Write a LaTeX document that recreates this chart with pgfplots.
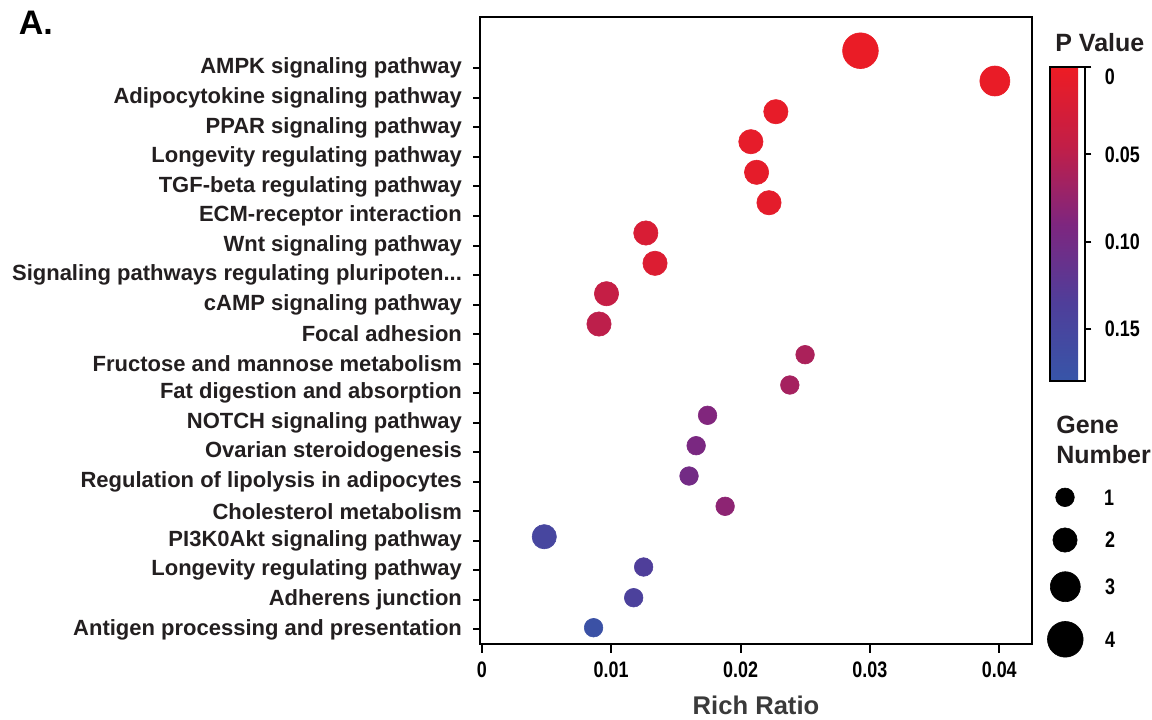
\documentclass[border=0pt]{standalone}
\usepackage{fontspec}
\setmainfont{Liberation Sans}
\newfontfamily\narrowbold{Liberation Sans Bold}[FakeStretch=0.8]
\usepackage{pgfplots}
\pgfplotsset{compat=1.18}
\usepackage{pgfplotstable}
\definecolor{txt}{RGB}{35,31,32}
\definecolor{xl}{RGB}{58,58,58}
\newcommand{\threedots}{...}

% x = rich ratio, y = vertical position (px from top), p = P value, n = gene number
\pgfplotstableread{
x y p n
0.02927 50.7 0.003 4
0.03966 81.0 0.004 3
0.02273 111.7 0.006 2
0.02080 141.7 0.007 2
0.02124 172.3 0.008 2
0.02220 202.7 0.009 2
0.01268 233.0 0.022 2
0.01339 263.3 0.018 2
0.00964 293.7 0.042 2
0.00906 324.0 0.048 2
0.02499 354.7 0.060 1
0.02381 385.0 0.064 1
0.01745 415.3 0.088 1
0.01657 445.7 0.094 1
0.01602 476.0 0.100 1
0.01881 506.3 0.080 1
0.00483 536.7 0.150 2
0.01251 567.0 0.135 1
0.01174 597.7 0.140 1
0.00864 627.7 0.172 1
}\datatable

\pgfplotstableread{
x y n
1065 497.3 1
1065 540.0 2
1065.3 586.7 3
1065.3 639.3 4
}\sizetable

\begin{document}
\begin{tikzpicture}
\useasboundingbox (0,0) rectangle (576pt,359.5pt);
\begin{axis}[
  at={(240.25pt,37.75pt)}, anchor=south west,
  scale only axis, width=275.75pt, height=313.5pt,
  xmin=-0.0001, xmax=0.04253,
  ymin=16.5, ymax=643.5, y dir=reverse,
  axis line style={line width=1pt, black},
  tick pos=left, tick align=outside,
  scaled x ticks=false,
  xtick={0,0.01,0.02,0.03,0.04},
  xticklabels={0,0.01,0.02,0.03,0.04},
  ytick={68.3,97.8,127.4,156.9,186.4,216.0,245.5,275.0,304.5,334.1,363.6,393.1,422.7,452.2,481.7,511.3,540.8,570.3,599.8,629.4},
  yticklabels={AMPK signaling pathway,Adipocytokine signaling pathway,PPAR signaling pathway,Longevity regulating pathway,TGF-beta regulating pathway,ECM-receptor interaction,Wnt signaling pathway,{Signaling pathways regulating pluripoten\threedots},cAMP signaling pathway,Focal adhesion,Fructose and mannose metabolism,Fat digestion and absorption,NOTCH signaling pathway,Ovarian steroidogenesis,Regulation of lipolysis in adipocytes,Cholesterol metabolism,PI3K0Akt signaling pathway,Longevity regulating pathway,Adherens junction,Antigen processing and presentation},
  xtick style={line width=1pt, black, /pgfplots/major tick length=4.5pt},
  ytick style={line width=1pt, black, /pgfplots/major tick length=3.5pt},
  yticklabel style={font=\bfseries\fontsize{11pt}{13pt}\selectfont, text=txt, xshift=-1.5pt},
  xticklabel style={font=\narrowbold\fontsize{11.2pt}{13pt}\selectfont, text=black, yshift=-1.5pt},
  /pgf/number format/assume math mode=true,
  colormap={pv}{rgb255=(55,85,168) rgb255=(79,62,154) rgb255=(126,38,127) rgb255=(194,30,71) rgb255=(237,28,36)},
  point meta min=-0.18, point meta max=0,
  colorbar,
  colorbar style={
    at={(parent axis.north east)}, anchor=north west,
    xshift=0.3pt, yshift=-25.4pt,
    width=17.85pt, height=156.85pt,
    xmin=0, xmax=1,
    ytick={0,-0.05,-0.1,-0.15},
    yticklabels={{\raisebox{-4.8pt}[\height][\depth]{0}},0.05,0.10,0.15},
    xtick=\empty,
    ytick pos=right, yticklabel pos=right, tick align=outside,
    axis line style={line width=1pt, black},
    ytick style={line width=1pt, black, /pgfplots/major tick length=3pt},
    yticklabel style={font=\narrowbold\fontsize{11.2pt}{13pt}\selectfont, text=black, xshift=2pt},
    /pgf/number format/assume math mode=true,
  },
]
\addplot[scatter, only marks, mark=*, point meta=explicit,
  scatter/use mapped color={draw=mapped color, fill=mapped color},
  mark options={line width=0.3pt},
  visualization depends on={3.225+1.425*\thisrow{n} \as \ms},
  scatter/@pre marker code/.append style={/tikz/mark size=\ms}]
  table[x=x, y=y, meta expr=-\thisrow{p}] {\datatable};
\end{axis}

\begin{axis}[
  at={(0pt,0pt)}, anchor=south west,
  scale only axis, width=576pt, height=359.5pt,
  xmin=0, xmax=1152, ymin=0, ymax=719, y dir=reverse,
  hide axis, clip=false,
]
\addplot[scatter, only marks, mark=*,
  scatter/use mapped color={draw=black, fill=black},
  mark options={line width=0.3pt},
  visualization depends on={3.225+1.425*\thisrow{n} \as \ms},
  scatter/@pre marker code/.append style={/tikz/mark size=\ms}]
  table[x=x, y=y] {\sizetable};
\node[anchor=base west, font=\bfseries\fontsize{17pt}{20pt}\selectfont, text=black] at (axis cs:11.7,34.3) {A.};
\node[anchor=base, font=\bfseries\fontsize{12.8pt}{15pt}\selectfont, text=xl] at (axis cs:756,714) {Rich Ratio};
\node[anchor=base west, font=\bfseries\fontsize{12.5pt}{15pt}\selectfont, text=txt] at (axis cs:1048.3,51.7) {P Value};
\node[anchor=base west, font=\bfseries\fontsize{12.5pt}{15pt}\selectfont, text=txt] at (axis cs:1049.3,433.3) {Gene};
\node[anchor=base west, font=\bfseries\fontsize{12.5pt}{15pt}\selectfont, text=txt] at (axis cs:1049.3,463.3) {Number};
\node[anchor=center, font=\narrowbold\fontsize{11.2pt}{13pt}\selectfont] at (axis cs:1109,497.3) {1};
\node[anchor=center, font=\narrowbold\fontsize{11.2pt}{13pt}\selectfont] at (axis cs:1110,540.0) {2};
\node[anchor=center, font=\narrowbold\fontsize{11.2pt}{13pt}\selectfont] at (axis cs:1110,586.7) {3};
\node[anchor=center, font=\narrowbold\fontsize{11.2pt}{13pt}\selectfont] at (axis cs:1110,639.3) {4};
\end{axis}
\end{tikzpicture}
\end{document}
